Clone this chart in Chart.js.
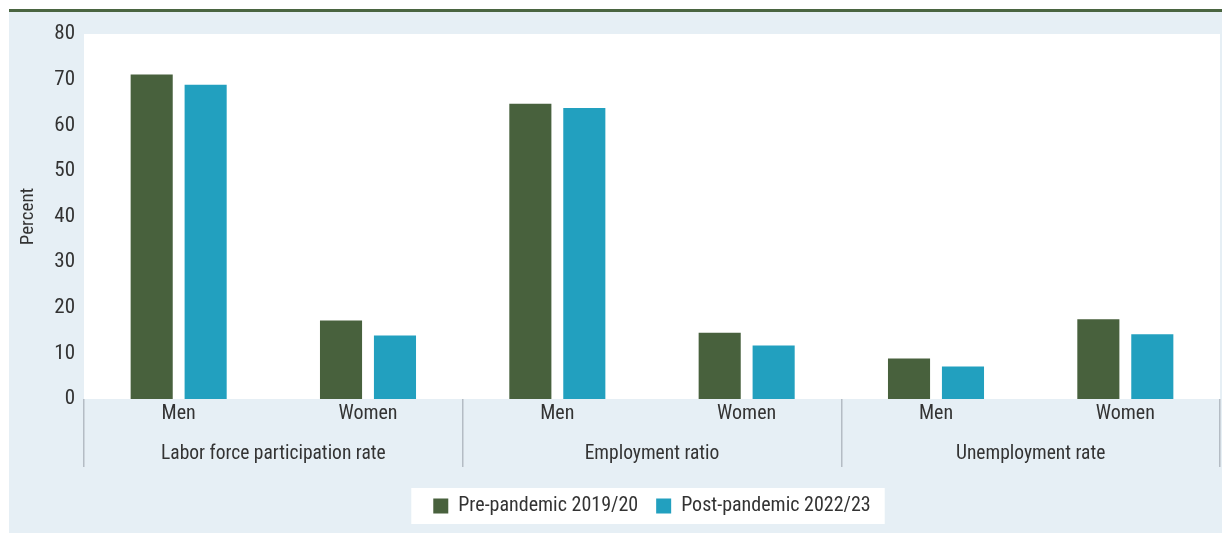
<!DOCTYPE html>
<html>
<head>
<meta charset="utf-8">
<script src="https://cdn.jsdelivr.net/npm/chart.js@4.4.1/dist/chart.umd.min.js"></script>
<style>
  html, body { margin: 0; padding: 0; background: #fff; }
  #frame {
    position: absolute; left: 9px; top: 9px;
    width: 1213px; height: 521px;
    border-top: 3px solid #4a6541;
    background: #e6eff5;
  }
  #chart { display: block; }
</style>
</head>
<body>
<div id="frame"><canvas id="chart" width="1213" height="521"></canvas></div>
<script>
// data
const groups = ['Labor force participation rate', 'Employment ratio', 'Unemployment rate'];
const subLabels = ['Men', 'Women', 'Men', 'Women', 'Men', 'Women'];
const prePandemic = [71.1, 17.2, 64.7, 14.5, 8.9, 17.5];
const postPandemic = [68.9, 13.9, 63.8, 11.7, 7.1, 14.2];
const yTicks = [0, 10, 20, 30, 40, 50, 60, 70, 80];

const FONT = '"Roboto Condensed", "Liberation Sans Narrow", "DejaVu Sans Condensed", sans-serif';
const TEXT = '#333333';
const SEP = '#b4bcc4';
const LEGEND_PAD = 18;

Chart.defaults.font.family = FONT;
Chart.defaults.color = TEXT;

// white plot area + white box behind the legend, legend centred on the plot
const backdrop = {
  id: 'backdrop',
  afterLayout(chart){
    const lg = chart.legend, a = chart.chartArea;
    if (!lg) return;
    const shift = (a.left + a.right) / 2 - (lg.left + lg.right) / 2;
    lg.left += shift; lg.right += shift;
  },
  beforeDraw(chart){
    const {ctx, chartArea: a} = chart;
    ctx.save();
    ctx.fillStyle = '#ffffff';
    ctx.fillRect(a.left, a.top, a.right - a.left, a.bottom - a.top);
    const lg = chart.legend;
    const boxes = lg && lg.legendHitBoxes;
    if (boxes && boxes.length){
      const total = boxes.reduce((s, b) => s + b.width, 0) + LEGEND_PAD * (boxes.length - 1);
      const cx = (lg.left + lg.right) / 2;
      const l = cx - total / 2 - 22;
      const r = cx + total / 2 + 14;
      const t = boxes[0].top + boxes[0].height / 2 - 18;
      ctx.fillRect(l, t, r - l, 36);
    }
    ctx.restore();
  }
};

new Chart(document.getElementById('chart'), {
  type: 'bar',
  data: {
    labels: subLabels,
    datasets: [
      { label: 'Pre-pandemic 2019/20', data: prePandemic, backgroundColor: '#48613d',
        barPercentage: 0.78, categoryPercentage: 0.57 },
      { label: 'Post-pandemic 2022/23', data: postPandemic, backgroundColor: '#22a0bf',
        barPercentage: 0.78, categoryPercentage: 0.57 }
    ]
  },
  options: {
    responsive: false,
    animation: false,
    layout: { padding: { top: 22, right: 2, left: 0, bottom: 7 } },
    plugins: {
      tooltip: { enabled: false },
      legend: {
        position: 'bottom',
        labels: {
          boxWidth: 15, boxHeight: 15, padding: LEGEND_PAD,
          font: { size: 20 }, color: TEXT
        }
      }
    },
    scales: {
      y: {
        min: 0, max: 80,
        afterBuildTicks(scale){ scale.ticks = yTicks.map(v=>({ value: v })); },
        afterFit(scale){ scale.width = 75; },
        grid: { display: false, drawTicks: false },
        border: { display: false },
        ticks: { font: { size: 21 }, color: TEXT, padding: 9 },
        title: { display: true, text: 'Percent', font: { size: 19 }, color: TEXT, padding: { top: 8, bottom: 0 } }
      },
      x: {
        afterFit(scale){ scale.height = 30; },
        grid: {
          drawOnChartArea: false, offset: true, tickLength: 30, lineWidth: 1.5,
          color: c => (c.index === undefined || c.index % 2 === 0) ? SEP : 'rgba(0,0,0,0)'
        },
        border: { display: false },
        ticks: { font: { size: 20 }, color: TEXT, padding: -27, maxRotation: 0, autoSkip: false }
      },
      x2: {
        type: 'category',
        position: 'bottom',
        labels: groups,
        offset: true,
        afterFit(scale){ scale.height = 49; },
        grid: { drawOnChartArea: false, offset: true, tickLength: 38, lineWidth: 1.5, color: SEP },
        border: { display: false },
        ticks: { font: { size: 19.5 }, color: TEXT, padding: -25, maxRotation: 0, autoSkip: false }
      }
    }
  },
  plugins: [backdrop]
});
</script>
</body>
</html>
